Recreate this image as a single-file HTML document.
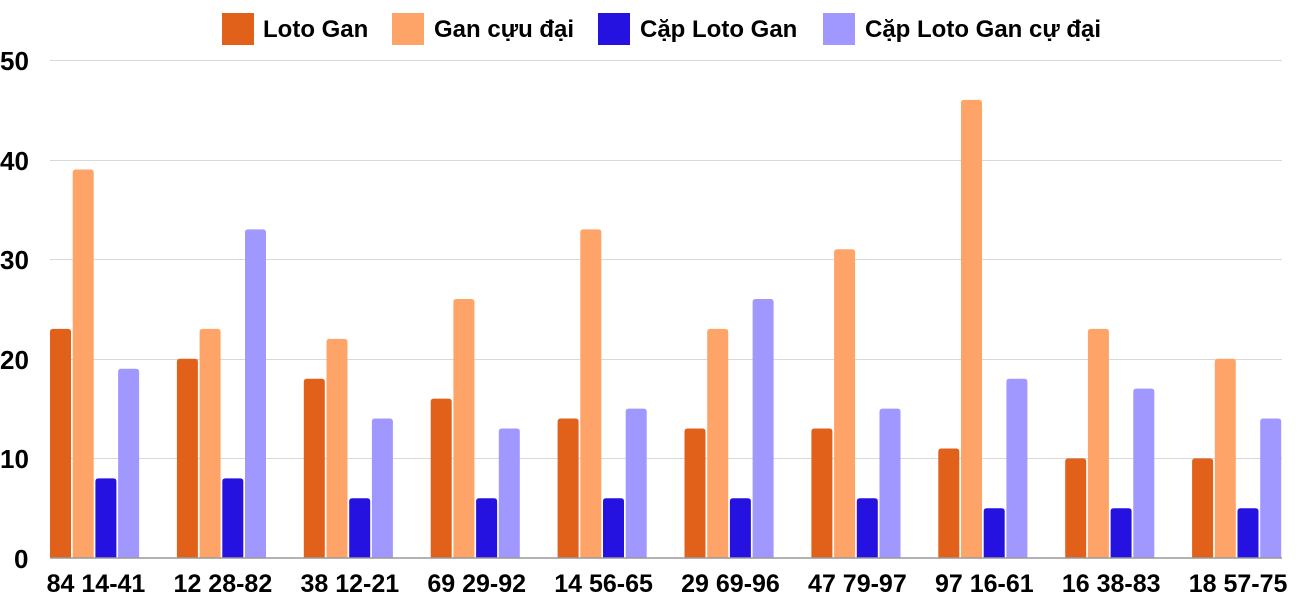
<!DOCTYPE html>
<html><head><meta charset="utf-8"><style>
body{margin:0;background:#fff;}
svg{display:block;font-family:"Liberation Sans",sans-serif;font-weight:bold;}
</style></head><body>
<svg width="1300" height="600" viewBox="0 0 1300 600">
<g stroke="#d9d9d9" stroke-width="1">
<line x1="50" x2="1282" y1="60.5" y2="60.5"/>
<line x1="50" x2="1282" y1="160.5" y2="160.5"/>
<line x1="50" x2="1282" y1="259.5" y2="259.5"/>
<line x1="50" x2="1282" y1="359.5" y2="359.5"/>
<line x1="50" x2="1282" y1="458.5" y2="458.5"/>
</g>
<g font-size="26" fill="#000">
<text x="0" y="70">50</text>
<text x="0" y="170">40</text>
<text x="0" y="269">30</text>
<text x="0" y="369">20</text>
<text x="0" y="468">10</text>
<text x="14" y="568">0</text>
</g>
<g id="bars"></g>
<line x1="50" x2="1282" y1="558" y2="558" stroke="#999" stroke-width="1.5"/>
<g font-size="25" fill="#000" text-anchor="middle" id="labels"></g>
<g font-size="24" fill="#000">
<rect x="222" y="13" width="32" height="32" fill="#E2611A"/><text x="263" y="37">Loto Gan</text>
<rect x="392" y="13" width="32" height="32" fill="#FFA468"/><text x="434" y="37">Gan cựu đại</text>
<rect x="598" y="13" width="32" height="32" fill="#2612E0"/><text x="640" y="37">Cặp Loto Gan</text>
<rect x="823" y="13" width="32" height="32" fill="#A097FF"/><text x="865" y="37">Cặp Loto Gan cự đại</text>
</g>
</svg>
<script>
var d=[["84 14-41",23,39,8,19],["12 28-82",20,23,8,33],["38 12-21",18,22,6,14],["69 29-92",16,26,6,13],["14 56-65",14,33,6,15],["29 69-96",13,23,6,26],["47 79-97",13,31,6,15],["97 16-61",11,46,5,18],["16 38-83",10,23,5,17],["18 57-75",10,20,5,14]];
var c=["#E2611A","#FFA468","#2612E0","#A097FF"];
var ns="http://www.w3.org/2000/svg",b=document.getElementById("bars"),l=document.getElementById("labels");
d.forEach(function(r,i){var x0=50+126.9*i;
for(var k=0;k<4;k++){var h=r[k+1]*9.96;var p=document.createElementNS(ns,"path");var x=x0+k*22.7,w=21,y=558-h,rr=3;
p.setAttribute("d","M"+x+",558V"+(y+rr)+"Q"+x+","+y+" "+(x+rr)+","+y+"H"+(x+w-rr)+"Q"+(x+w)+","+y+" "+(x+w)+","+(y+rr)+"V558Z");
p.setAttribute("fill",c[k]);b.appendChild(p);}
var t=document.createElementNS(ns,"text");t.setAttribute("x",x0+46);t.setAttribute("y",592);t.textContent=r[0];l.appendChild(t);});
</script>
</body></html>
